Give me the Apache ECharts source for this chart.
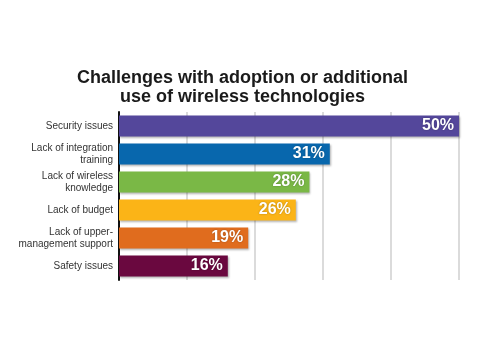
<!DOCTYPE html>
<html>
<head>
	<meta charset="utf-8">
	<script src="https://cdn.jsdelivr.net/npm/echarts@6/dist/echarts.min.js"></script>
	<style>
	html, body { margin: 0; padding: 0; background: #fff; }
	#main { width: 485px; height: 350px; }
	</style>
</head>
<body>
	<div id="main"></div>
	<script>
		var categories = ['Security issues', 'Lack of integration\ntraining', 'Lack of wireless\nknowledge', 'Lack of budget', 'Lack of upper-\nmanagement support', 'Safety issues'];
		var values = [50, 31, 28, 26, 19, 16];
		var colors = ['#54479b', '#0867ad', '#7ab846', '#fbb417', '#e06c1e', '#6a083f'];
		var ticks = [0, 10, 20, 30, 40, 50];

		var myChart = echarts.init(document.getElementById('main'));

		var data = values.map(function (v, i) {
			return { value: v, itemStyle: { color: colors[i] } };
		});

		var option = {
			backgroundColor: '#fff',
			animation: false,
			title: {
				text: 'Challenges with adoption or additional\nuse of wireless technologies',
				left: 'center',
				top: 64,
				textStyle: {
					fontFamily: 'Liberation Sans',
					fontWeight: 'bold',
					fontSize: 18,
					lineHeight: 19,
					color: '#1a1a1a'
				}
			},
			grid: { left: 119, right: 26, top: 112, bottom: 70 },
			xAxis: {
				type: 'value',
				min: ticks[0],
				max: ticks[ticks.length - 1],
				interval: 10,
				axisLabel: { show: false },
				axisLine: { show: false },
				axisTick: { show: false },
				splitLine: { lineStyle: { color: '#cfcfcf', width: 1.5 } }
			},
			yAxis: {
				type: 'category',
				inverse: true,
				data: categories,
				axisLine: { show: true, lineStyle: { color: '#111', width: 2 } },
				axisTick: { show: false },
				axisLabel: {
					color: '#333',
					fontFamily: 'Liberation Sans',
					fontSize: 10,
					lineHeight: 12,
					margin: 6
				}
			},
			series: [{
				type: 'bar',
				data: data,
				barCategoryGap: '25%',
				z: 3,
				itemStyle: {
					shadowColor: 'rgba(0,0,0,0.3)',
					shadowBlur: 2,
					shadowOffsetX: 1,
					shadowOffsetY: 1
				},
				label: {
					show: true,
					position: 'insideRight',
					distance: 5,
					formatter: '{c}%',
					color: '#fff',
					fontFamily: 'Liberation Sans',
					fontWeight: 'bold',
					fontSize: 16,
					textShadowColor: 'rgba(0,0,0,0.3)',
					textShadowBlur: 2
				}
			}]
		};
		myChart.setOption(option);
	</script>
</body>
</html>
